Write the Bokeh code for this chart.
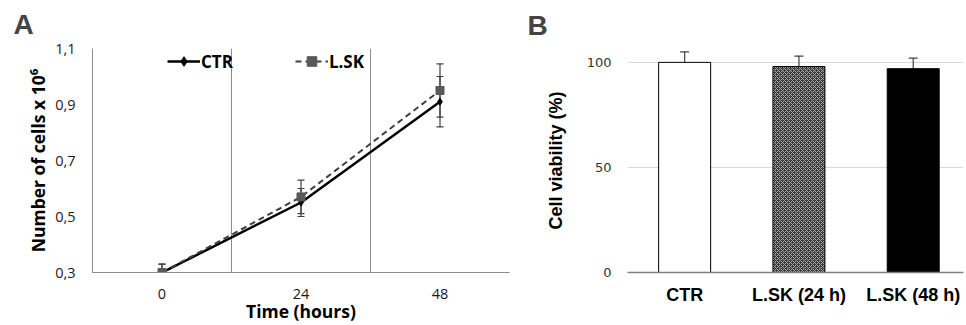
from bokeh.plotting import figure
from bokeh.models import (ColumnDataSource, FixedTicker, Whisker, TeeHead, Legend,
                          LegendItem, Range1d)
from bokeh.layouts import row
from bokeh.embed import file_html
from bokeh.resources import INLINE

# ---------------- data ----------------
# Panel A: growth curve
time_labels = ["0", "24", "48"]
ctr_mean = [0.30, 0.55, 0.91]
ctr_err = [0.03, 0.05, 0.09]
lsk_mean = [0.30, 0.57, 0.95]
lsk_err = [0.03, 0.06, 0.095]
a_yticks = [0.3, 0.5, 0.7, 0.9, 1.1]
a_ytick_labels = ["0,3", "0,5", "0,7", "0,9", "1,1"]

# Panel B: viability
groups = ["CTR", "L.SK (24 h)", "L.SK (48 h)"]
viability = [100, 98, 97]
viability_err = [5, 5, 5]
b_yticks = [0, 50, 100]

# ---------------- panel A ----------------
xa = list(range(len(time_labels)))
A_Y0, A_Y1 = 0.3, 1.1

pA = figure(width=520, height=325, x_range=Range1d(-0.5, 2.5), y_range=Range1d(A_Y0, A_Y1),
            output_backend="svg", toolbar_location=None,
            min_border_left=92, min_border_right=11, min_border_top=48, min_border_bottom=53)
pA.outline_line_color = None

pA.title.text = "A"
pA.title.align = "left"
pA.title.vertical_align = "top"
pA.title.offset = -79
pA.title.standoff = 14
pA.title.text_font = "Liberation Sans"
pA.title.text_font_style = "bold"
pA.title.text_font_size = "28px"

pA.xgrid.ticker = FixedTicker(ticks=[0.5, 1.5, 2.5])
pA.xgrid.grid_line_color = "#8c8c8c"
pA.xgrid.grid_line_width = 1
pA.ygrid.grid_line_color = None

pA.xaxis.ticker = FixedTicker(ticks=xa)
pA.xaxis.major_label_overrides = {i: t for i, t in zip(xa, time_labels)}
pA.yaxis.ticker = FixedTicker(ticks=a_yticks)
pA.yaxis.major_label_overrides = {v: t for v, t in zip(a_yticks, a_ytick_labels)}
for ax in (pA.xaxis[0], pA.yaxis[0]):
    ax.axis_line_color = "#8c8c8c"
    ax.axis_line_width = 1
    ax.major_tick_line_color = None
    ax.minor_tick_line_color = None
    ax.major_tick_out = 0
    ax.major_tick_in = 0
    ax.minor_tick_out = 0
    ax.major_label_text_font = "Open Sans"
    ax.major_label_text_font_size = "14.5px"
    ax.major_label_text_color = "#1a1a1a"
    ax.axis_label_text_font = "Open Sans"
    ax.axis_label_text_font_style = "bold"
    ax.axis_label_text_font_size = "17.5px"
    ax.axis_label_text_color = "black"
pA.xaxis.major_label_standoff = 16
pA.xaxis.axis_label_standoff = -3
pA.xaxis.axis_label = "Time (hours)"
pA.yaxis.major_label_standoff = 17
pA.yaxis.axis_label_standoff = 2
pA.yaxis.axis_label = "Number of cells x 10\u2076"

r_ctr_line = pA.line(xa, ctr_mean, line_color="black", line_width=2.5)
r_lsk_line = pA.line(xa, lsk_mean, line_color="#404040", line_width=2, line_dash="6 4")
r_ctr_pts = pA.scatter(xa, ctr_mean, marker="diamond", size=7, color="black")
r_lsk_pts = pA.scatter(xa, lsk_mean, marker="square", size=8, color="#595959")

for mean, err in ((ctr_mean, ctr_err), (lsk_mean, lsk_err)):
    src = ColumnDataSource(dict(
        x=xa,
        upper=[m + e for m, e in zip(mean, err)],
        lower=[max(m - e, A_Y0) for m, e in zip(mean, err)],
    ))
    pA.add_layout(Whisker(source=src, base="x", upper="upper", lower="lower",
                          line_color="#404040", line_width=1.2,
                          upper_head=TeeHead(size=7, line_color="#404040", line_width=1.2),
                          lower_head=TeeHead(size=7, line_color="#404040", line_width=1.2)))

legend = Legend(items=[LegendItem(label="CTR", renderers=[r_ctr_line, r_ctr_pts]),
                       LegendItem(label="L.SK", renderers=[r_lsk_line, r_lsk_pts])],
                orientation="horizontal", location=(75, 199),
                glyph_width=33, glyph_height=24, label_height=24, label_standoff=1,
                spacing=62, padding=0, margin=0, border_line_color=None,
                background_fill_alpha=0,
                label_text_font="Open Sans", label_text_font_style="bold",
                label_text_font_size="17px", label_text_color="black")
pA.add_layout(legend)

# ---------------- panel B ----------------
xb = list(range(len(groups)))
pB = figure(width=446, height=325, x_range=Range1d(-0.5, 2.44), y_range=Range1d(0, 106.6),
            output_backend="svg", toolbar_location=None,
            min_border_left=107, min_border_right=3, min_border_top=48, min_border_bottom=50)
pB.outline_line_color = None
pB.title.text = "B"
pB.title.align = "left"
pB.title.vertical_align = "top"
pB.title.offset = -100
pB.title.standoff = 11
pB.title.text_font = "Liberation Sans"
pB.title.text_font_style = "bold"
pB.title.text_font_size = "28px"

pB.xgrid.grid_line_color = None
pB.ygrid.ticker = FixedTicker(ticks=[50, 100])
pB.ygrid.grid_line_color = "#d9d9d9"
pB.ygrid.grid_line_width = 1.2

bar_styles = [
    dict(fill_color="white"),
    dict(fill_color="#3a3a3a", hatch_pattern="diagonal_cross", hatch_color="#a8a8a8",
         hatch_scale=4, hatch_weight=1),
    dict(fill_color="black"),
]
for i in xb:
    pB.vbar(x=[xb[i]], top=[viability[i]], width=0.455, line_color="black", line_width=1,
            **bar_styles[i])

srcB = ColumnDataSource(dict(
    x=xb,
    upper=[v + e for v, e in zip(viability, viability_err)],
    lower=[v - e for v, e in zip(viability, viability_err)],
))
pB.add_layout(Whisker(source=srcB, base="x", upper="upper", lower="lower",
                      line_color="#404040", line_width=1.2,
                      upper_head=TeeHead(size=9, line_color="#404040", line_width=1.2),
                      lower_head=TeeHead(size=9, line_color="#404040", line_width=1.2)))

pB.xaxis.ticker = FixedTicker(ticks=xb)
pB.xaxis.major_label_overrides = {i: g for i, g in zip(xb, groups)}
pB.yaxis.ticker = FixedTicker(ticks=b_yticks)
for ax in (pB.xaxis[0], pB.yaxis[0]):
    ax.major_tick_line_color = None
    ax.minor_tick_line_color = None
    ax.major_tick_out = 0
    ax.major_tick_in = 0
    ax.minor_tick_out = 0
pB.xaxis.axis_line_color = "#808080"
pB.xaxis.axis_line_width = 1.5
pB.yaxis.axis_line_color = None
pB.xaxis.major_label_text_font = "Liberation Sans"
pB.xaxis.major_label_text_font_style = "bold"
pB.xaxis.major_label_text_font_size = "18px"
pB.xaxis.major_label_text_color = "black"
pB.xaxis.major_label_standoff = 12
pB.yaxis.major_label_text_font = "DejaVu Sans"
pB.yaxis.major_label_text_font_size = "13px"
pB.yaxis.major_label_text_color = "#333333"
pB.yaxis.major_label_standoff = 16
pB.yaxis.axis_label = "Cell viability (%)"
pB.yaxis.axis_label_text_font = "Liberation Sans"
pB.yaxis.axis_label_text_font_style = "bold"
pB.yaxis.axis_label_text_font_size = "18px"
pB.yaxis.axis_label_text_color = "black"
pB.yaxis.axis_label_standoff = 18

layout = row(pA, pB)
open("out.html", "w").write(file_html(layout, INLINE))
